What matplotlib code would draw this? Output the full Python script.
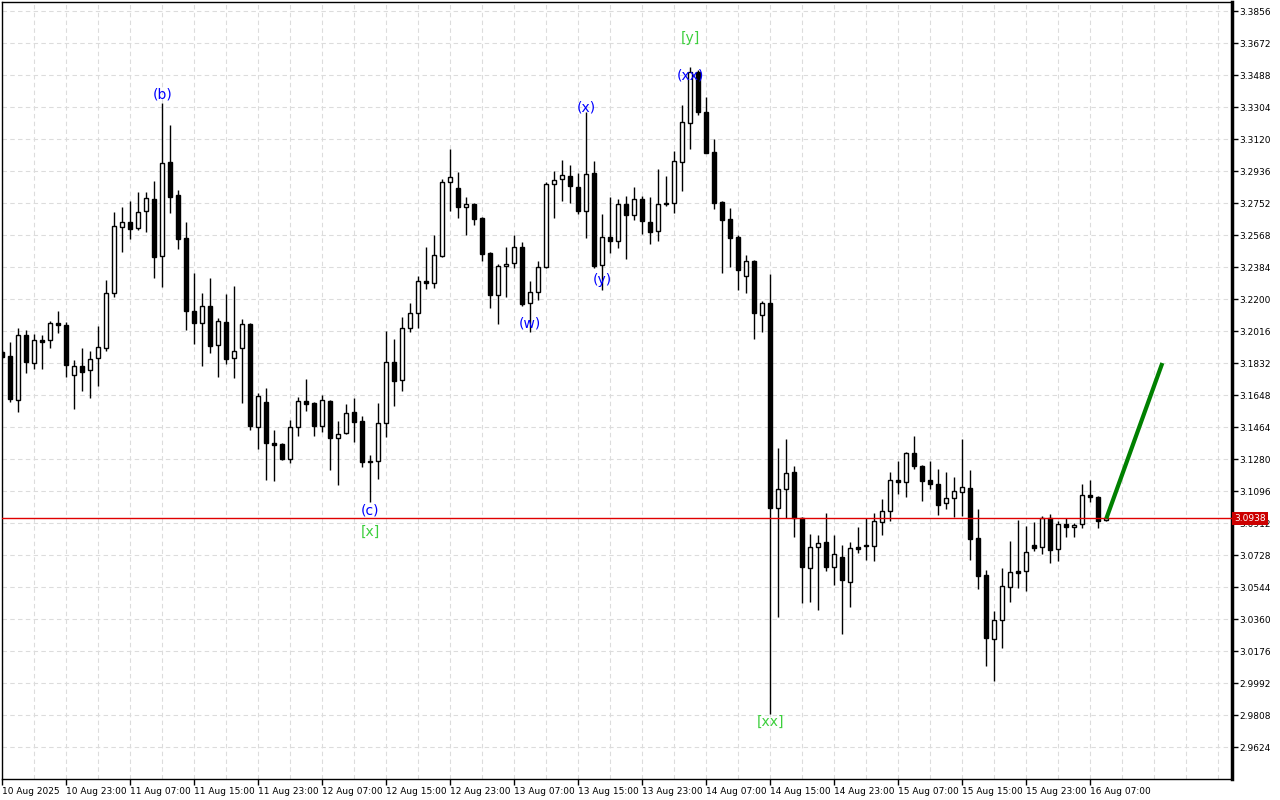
#!/usr/bin/env python3
"""Hourly candlestick chart with Elliott wave labels and a forecast leg (MT4 style)."""

import matplotlib
matplotlib.use("Agg")
import matplotlib.pyplot as plt

# hourly bars, 10 Aug 15:00 .. 16 Aug 09:00
opens = [
    3.1895, 3.1872, 3.1619, 3.1993, 3.1832, 3.1964, 3.1964, 3.2062, 3.2051, 3.1763,
    3.1815, 3.1792, 3.1861, 3.1918, 3.2235, 3.2614, 3.2643, 3.2608, 3.2706, 3.2775,
    3.2447, 3.2988, 3.2798, 3.2551, 3.2131, 3.2062, 3.2160, 3.1936, 3.2068, 3.1861,
    3.1918, 3.2056, 3.1464, 3.1608, 3.1372, 3.1366, 3.1280, 3.1464, 3.1614, 3.1602,
    3.1470, 3.1614, 3.1401, 3.1430, 3.1550, 3.1499, 3.1263, 3.1269, 3.1487, 3.1838,
    3.1734, 3.2033, 3.2120, 3.2304, 3.2292, 3.2447, 3.2873, 3.2838, 3.2729, 3.2746,
    3.2666, 3.2464, 3.2223, 3.2390, 3.2407, 3.2499, 3.2177, 3.2240, 3.2384, 3.2861,
    3.2890, 3.2907, 3.2844, 3.2706, 3.2925, 3.2396, 3.2557, 3.2534, 3.2746, 3.2683,
    3.2775, 3.2643, 3.2591, 3.2752, 3.2752, 3.2988, 3.3212, 3.3505, 3.3275, 3.3045,
    3.2758, 3.2660, 3.2557, 3.2332, 3.2419, 3.2108, 3.2177, 3.0998, 3.1108, 3.1205,
    3.0941, 3.0653, 3.0774, 3.0803, 3.0659, 3.0717, 3.0573, 3.0774, 3.0786, 3.0780,
    3.0918, 3.0981, 3.1159, 3.1148, 3.1315, 3.1240, 3.1159, 3.1136, 3.1027, 3.1056,
    3.1090, 3.1113, 3.0826, 3.0613, 3.0245, 3.0354, 3.0544, 3.0636, 3.0636, 3.0786,
    3.0774, 3.0941, 3.0763, 3.0906, 3.0889, 3.0906, 3.1073, 3.1062, 3.0929,
]
highs = [
    3.1907, 3.1953, 3.2033, 3.2022, 3.1999, 3.1993, 3.2074, 3.2131, 3.2068, 3.1849,
    3.1918, 3.1901, 3.2045, 3.2309, 3.2700, 3.2729, 3.2763, 3.2815, 3.2815, 3.2879,
    3.3327, 3.3200, 3.2827, 3.2643, 3.2350, 3.2235, 3.2321, 3.2091, 3.2229, 3.2275,
    3.2085, 3.2062, 3.1660, 3.1688, 3.1447, 3.1372, 3.1504, 3.1637, 3.1740, 3.1608,
    3.1648, 3.1619, 3.1499, 3.1596, 3.1631, 3.1527, 3.1303, 3.1602, 3.2016, 3.1970,
    3.2097, 3.2177, 3.2332, 3.2499, 3.2568, 3.2890, 3.3062, 3.2930, 3.2786, 3.2752,
    3.2672, 3.2470, 3.2401, 3.2499, 3.2568, 3.2528, 3.2304, 3.2419, 3.2873, 3.2936,
    3.2999, 3.2970, 3.2925, 3.3275, 3.2993, 3.2689, 3.2786, 3.2775, 3.2792, 3.2844,
    3.2792, 3.2786, 3.2948, 3.2907, 3.3051, 3.3316, 3.3534, 3.3517, 3.3362, 3.3120,
    3.2763, 3.2723, 3.2568, 3.2453, 3.2424, 3.2189, 3.2344, 3.1343, 3.1395, 3.1240,
    3.0947, 3.0849, 3.0843, 3.0970, 3.0843, 3.0786, 3.0803, 3.0889, 3.0941, 3.0970,
    3.1050, 3.1205, 3.1269, 3.1320, 3.1412, 3.1246, 3.1269, 3.1223, 3.1205, 3.1177,
    3.1395, 3.1217, 3.0993, 3.0642, 3.0406, 3.0653, 3.0809, 3.0929, 3.0895, 3.0918,
    3.0952, 3.0964, 3.0924, 3.0941, 3.0912, 3.1136, 3.1159, 3.1067, 3.0947,
]
lows = [
    3.1861, 3.1608, 3.1550, 3.1775, 3.1797, 3.1797, 3.1918, 3.2004, 3.1752, 3.1568,
    3.1671, 3.1631, 3.1700, 3.1901, 3.2212, 3.2470, 3.2545, 3.2597, 3.2585, 3.2321,
    3.2269, 3.2695, 3.2488, 3.2022, 3.1941, 3.1815, 3.1890, 3.1752, 3.1826, 3.1746,
    3.1602, 3.1447, 3.1338, 3.1159, 3.1154, 3.1274, 3.1257, 3.1412, 3.1556, 3.1412,
    3.1435, 3.1217, 3.1131, 3.1424, 3.1378, 3.1234, 3.1033, 3.1165, 3.1406, 3.1585,
    3.1671, 3.2010, 3.2033, 3.2258, 3.2263, 3.2442, 3.2706, 3.2666, 3.2568, 3.2626,
    3.2419, 3.2148, 3.2056, 3.2212, 3.2378, 3.2160, 3.2010, 3.2194, 3.2378, 3.2666,
    3.2763, 3.2752, 3.2689, 3.2551, 3.2378, 3.2252, 3.2464, 3.2493, 3.2430, 3.2654,
    3.2574, 3.2516, 3.2534, 3.2735, 3.2695, 3.2821, 3.3062, 3.3258, 3.3039, 3.2718,
    3.2350, 3.2384, 3.2252, 3.2235, 3.1970, 3.2010, 2.9814, 3.0372, 3.0941, 3.0832,
    3.0452, 3.0458, 3.0412, 3.0636, 3.0556, 3.0274, 3.0429, 3.0740, 3.0699, 3.0694,
    3.0843, 3.0924, 3.1079, 3.1062, 3.1223, 3.1038, 3.1108, 3.0958, 3.0993, 3.0947,
    3.0952, 3.0699, 3.0533, 3.0090, 3.0004, 3.0193, 3.0458, 3.0538, 3.0521, 3.0751,
    3.0734, 3.0682, 3.0694, 3.0832, 3.0832, 3.0883, 3.1033, 3.0883, 3.0924,
]
closes = [
    3.1867, 3.1625, 3.1993, 3.1838, 3.1964, 3.1953, 3.2062, 3.2051, 3.1821, 3.1815,
    3.1780, 3.1855, 3.1924, 3.2235, 3.2620, 3.2643, 3.2603, 3.2700, 3.2781, 3.2442,
    3.2982, 3.2786, 3.2545, 3.2131, 3.2062, 3.2160, 3.1930, 3.2074, 3.1855, 3.1901,
    3.2056, 3.1470, 3.1642, 3.1372, 3.1360, 3.1280, 3.1464, 3.1614, 3.1596, 3.1470,
    3.1619, 3.1401, 3.1424, 3.1544, 3.1493, 3.1263, 3.1269, 3.1487, 3.1838, 3.1729,
    3.2033, 3.2120, 3.2304, 3.2292, 3.2453, 3.2873, 3.2901, 3.2729, 3.2746, 3.2660,
    3.2459, 3.2223, 3.2390, 3.2401, 3.2499, 3.2171, 3.2240, 3.2384, 3.2861, 3.2884,
    3.2913, 3.2850, 3.2706, 3.2919, 3.2390, 3.2557, 3.2534, 3.2746, 3.2683, 3.2775,
    3.2648, 3.2585, 3.2746, 3.2746, 3.2993, 3.3218, 3.3505, 3.3275, 3.3039, 3.2752,
    3.2654, 3.2551, 3.2367, 3.2419, 3.2120, 3.2177, 3.0998, 3.1108, 3.1200, 3.0941,
    3.0659, 3.0774, 3.0797, 3.0659, 3.0734, 3.0584, 3.0768, 3.0763, 3.0780, 3.0924,
    3.0981, 3.1159, 3.1148, 3.1315, 3.1240, 3.1154, 3.1136, 3.1015, 3.1056, 3.1096,
    3.1119, 3.0820, 3.0607, 3.0251, 3.0354, 3.0550, 3.0630, 3.0625, 3.0745, 3.0768,
    3.0941, 3.0757, 3.0906, 3.0889, 3.0900, 3.1073, 3.1062, 3.0924, 3.0938,
]

time_labels = [
    "10 Aug 2025", "10 Aug 23:00", "11 Aug 07:00", "11 Aug 15:00", "11 Aug 23:00",
    "12 Aug 07:00", "12 Aug 15:00", "12 Aug 23:00", "13 Aug 07:00", "13 Aug 15:00",
    "13 Aug 23:00", "14 Aug 07:00", "14 Aug 15:00", "14 Aug 23:00", "15 Aug 07:00",
    "15 Aug 15:00", "15 Aug 23:00", "16 Aug 07:00",
]
price_ticks = [
    2.9624, 2.9808, 2.9992, 3.0176, 3.0360, 3.0544, 3.0728, 3.0912, 3.1096, 3.1280,
    3.1464, 3.1648, 3.1832, 3.2016, 3.2200, 3.2384, 3.2568, 3.2752, 3.2936, 3.3120,
    3.3304, 3.3488, 3.3672, 3.3856,
]

current_price = 3.0938
forecast_bars = [138, 145]
forecast_prices = [3.0938, 3.1832]

# wave marks: text, bar index, side of the candle
wave_text = ["(b)", "(c)", "[x]", "(w)", "(x)", "(y)", "(xx)", "[y]", "[xx]"]
wave_bar = [20, 46, 46, 66, 73, 75, 86, 86, 96]
wave_side = ["high", "low", "low", "low", "high", "low", "high", "high", "low"]
wave_level = ["minor", "minor", "major", "minor", "minor", "minor", "minor", "major", "major"]

BLUE = "#0000ff"
GREEN = "#3ccf3c"


def draw_candles(ax):
    idx = list(range(len(opens)))
    ax.vlines(idx, lows, highs, color="black", linewidth=1, zorder=2)
    bottoms = [min(o, c) for o, c in zip(opens, closes)]
    heights = [max(abs(c - o), 0.0002) for o, c in zip(opens, closes)]
    colors = ["white" if c >= o else "black" for o, c in zip(opens, closes)]
    ax.bar(idx, heights, bottom=bottoms, width=0.5, color=colors,
           edgecolor="black", linewidth=1, zorder=3)


def draw_waves(ax):
    # vertical offset (pixels, + is down) from the candle extreme
    offsets = {"(b)": -9, "(c)": 9, "[x]": 30, "(w)": -9, "(x)": -5,
               "(y)": -10, "(xx)": 8, "[y]": -29, "[xx]": 8}
    for txt, bar, side, lvl in zip(wave_text, wave_bar, wave_side, wave_level):
        y = highs[bar] if side == "high" else lows[bar]
        ax.annotate(txt, xy=(bar, y), xytext=(0, -offsets[txt] * 0.72),
                    textcoords="offset points", ha="center", va="center",
                    fontsize=10, color=BLUE if lvl == "minor" else GREEN,
                    zorder=5)


def main():
    fig = plt.figure(figsize=(12.8, 8), dpi=100)
    ax = fig.add_axes([2 / 1280, 21 / 800, 1230 / 1280, 777 / 800])

    ax.set_xlim(-0.04, -0.04 + 1230 / 8)
    ax.set_ylim(2.9440, 3.3908)

    # grid
    for b in range(0, 154, 4):
        ax.axvline(b, color="#dcdcdc", linewidth=0.8, linestyle=(0, (4, 3)), zorder=0)
    for p in price_ticks:
        ax.axhline(p, color="#dcdcdc", linewidth=0.8, linestyle=(0, (4, 3)), zorder=0)

    draw_candles(ax)

    ax.axhline(current_price, color="#e00000", linewidth=1, zorder=4)
    ax.plot(forecast_bars, forecast_prices, color="#008000", linewidth=3,
            solid_capstyle="butt", zorder=4)

    draw_waves(ax)

    # axes look
    ax.yaxis.tick_right()
    ax.set_yticks(price_ticks)
    ax.set_yticklabels([f"{p:.4f}" for p in price_ticks])
    ax.set_xticks(list(range(0, 8 * len(time_labels), 8)))
    ax.set_xticklabels(time_labels, ha="left")
    ax.tick_params(axis="y", direction="out", length=4, width=1, pad=1,
                   labelsize=6.5, colors="black")
    ax.tick_params(axis="x", direction="out", length=4, width=1, pad=2,
                   labelsize=6.5, colors="black")
    for lab in ax.get_xticklabels():
        lab.set_horizontalalignment("left")

    for side in ["left", "top", "bottom"]:
        ax.spines[side].set_linewidth(1)
    ax.spines["right"].set_linewidth(2.5)

    ax.text(1.002, current_price, f"{current_price:.4f}", transform=ax.get_yaxis_transform(),
            ha="left", va="center", color="white", fontsize=6.5, zorder=6,
            bbox=dict(boxstyle="square,pad=0.25", facecolor="#cc0000", edgecolor="none"))

    fig.savefig("out.png", dpi=100, facecolor="white")
    plt.close(fig)


if __name__ == "__main__":
    main()
